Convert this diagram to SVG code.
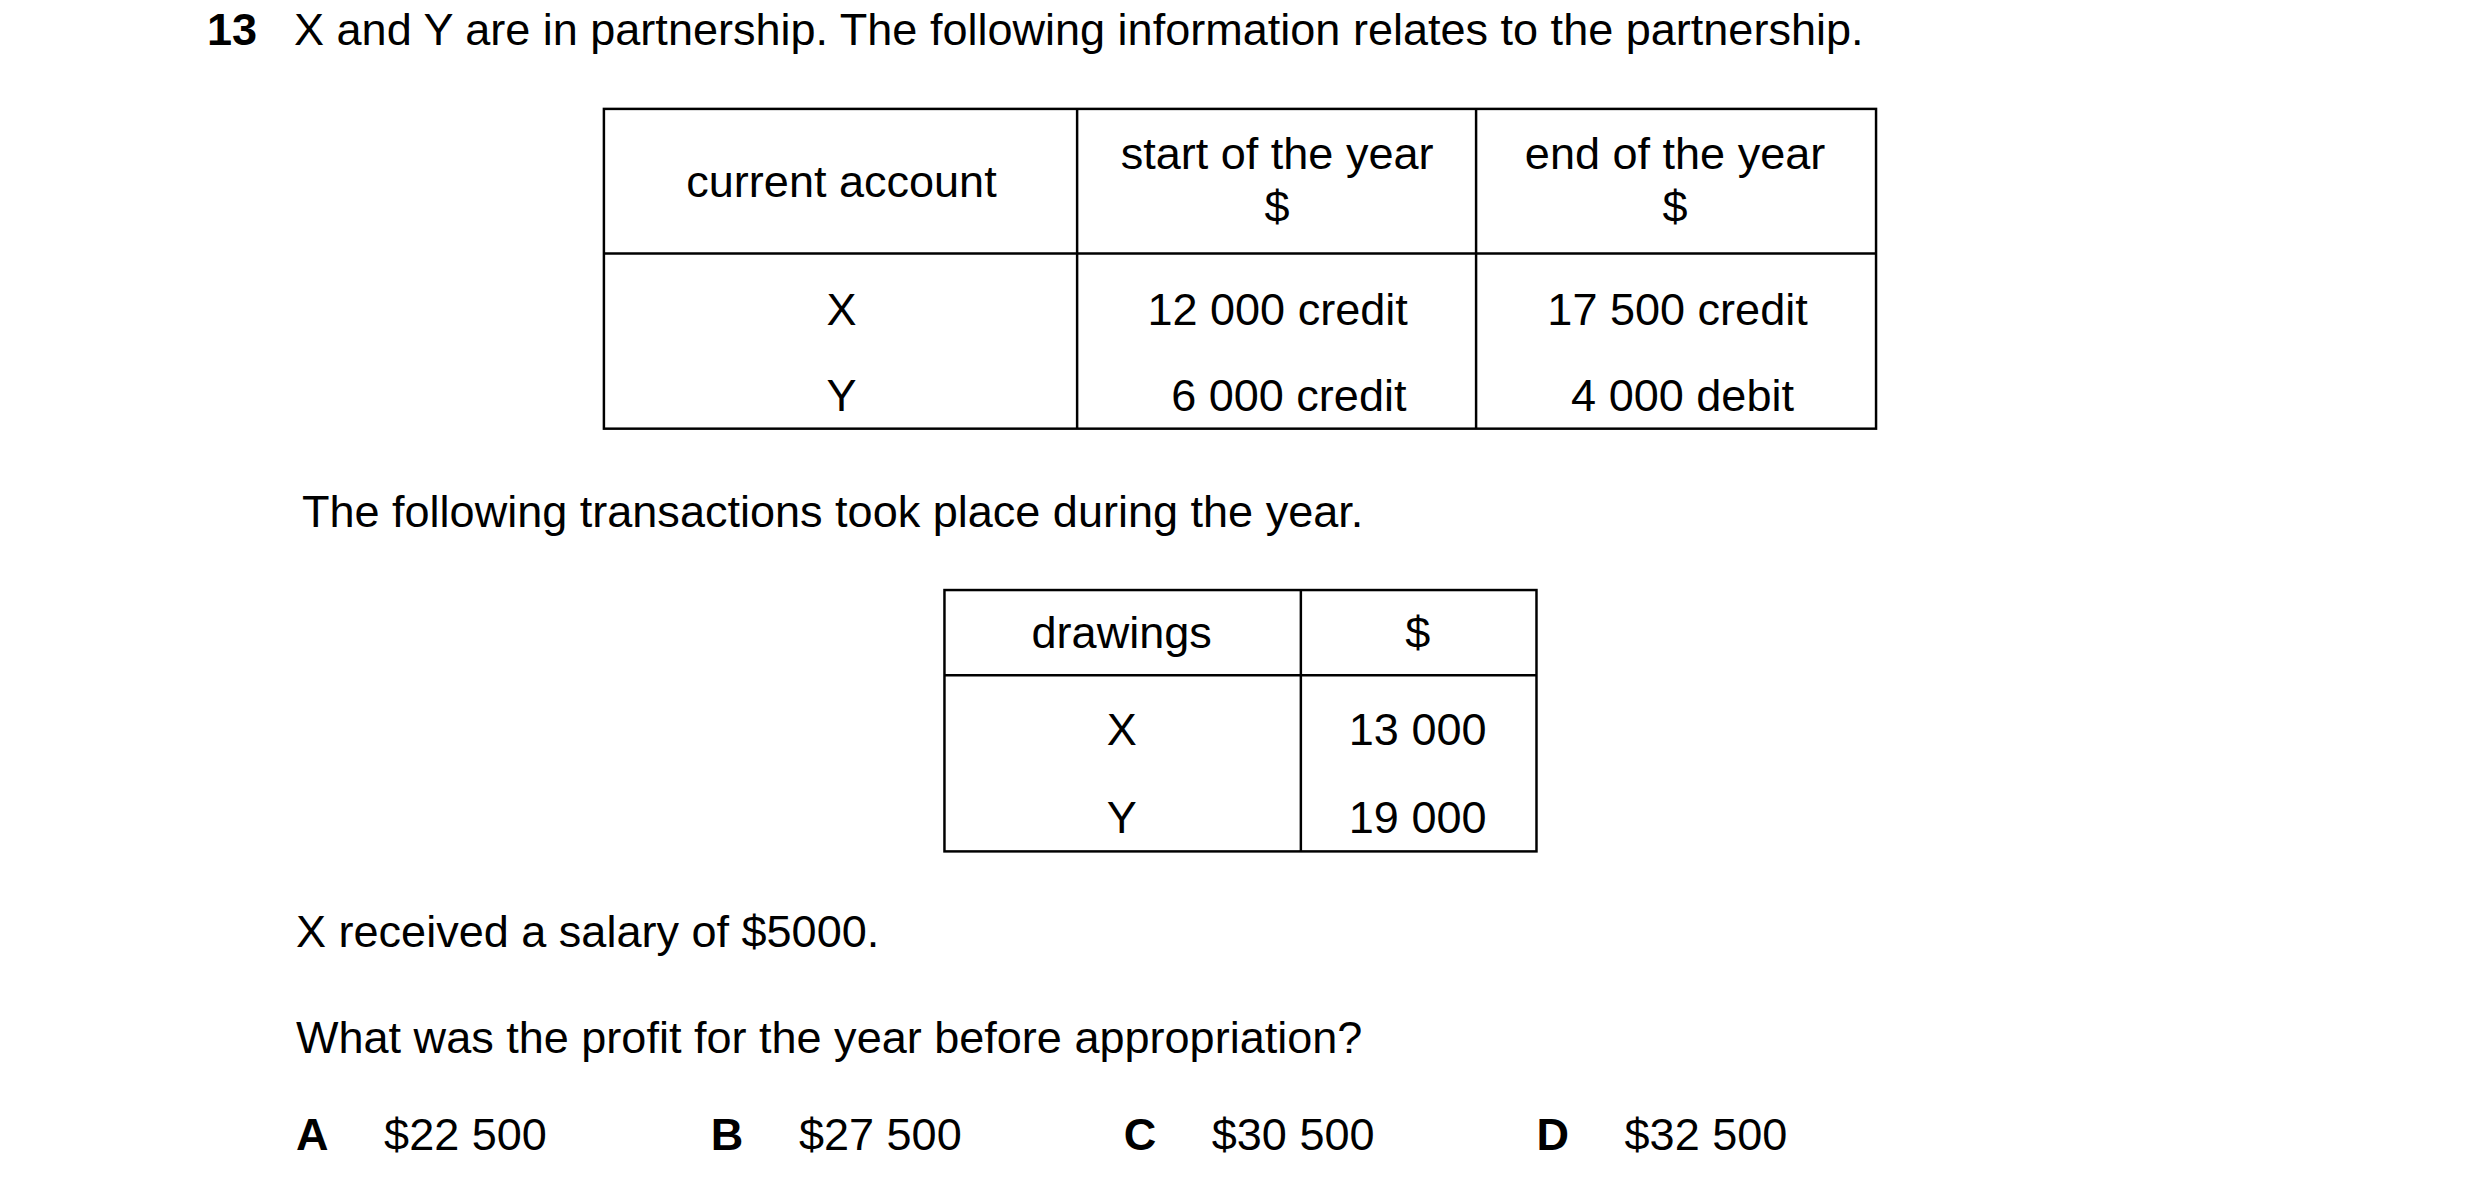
<svg xmlns="http://www.w3.org/2000/svg" width="2480" height="1196" viewBox="0 0 2480 1196">
<style>
text{font-family:"Liberation Sans",Arial,sans-serif;font-size:45.5px;fill:#000}
.b{font-weight:bold}
.c{text-anchor:middle}
.ln{stroke:#000;stroke-width:2.5;fill:none}
</style>
<rect width="2480" height="1196" fill="#fff"/>
<g transform="scale(0.99)">
<g id="title"><text class="b" x="209" y="45">13</text><text x="297" y="45">X and Y are in partnership. The following information relates to the partnership.</text></g>
<g id="table1">
<rect class="ln" x="610" y="110" width="1285" height="323"/>
<line class="ln" x1="1088" y1="110" x2="1088" y2="433"/>
<line class="ln" x1="1491" y1="110" x2="1491" y2="433"/>
<line class="ln" x1="610" y1="256" x2="1895" y2="256"/>
<text class="c" x="850" y="199">current account</text>
<text class="c" x="1290" y="171">start of the year</text>
<text class="c" x="1290" y="224">$</text>
<text class="c" x="1692" y="171">end of the year</text>
<text class="c" x="1692" y="224">$</text>
<text class="c" x="850" y="328">X</text>
<text class="c" x="850" y="415">Y</text>
<text x="1159" y="328">12 000 credit</text>
<text x="1183" y="415">6 000 credit</text>
<text x="1563" y="328">17 500 credit</text>
<text x="1587" y="415">4 000 debit</text>
</g>
<g id="text2"><text x="305" y="532">The following transactions took place during the year.</text></g>
<g id="table2">
<rect class="ln" x="954" y="596" width="598" height="264"/>
<line class="ln" x1="1314" y1="596" x2="1314" y2="860"/>
<line class="ln" x1="954" y1="682" x2="1552" y2="682"/>
<text class="c" x="1133" y="655">drawings</text>
<text class="c" x="1432" y="655">$</text>
<text class="c" x="1133" y="753">X</text>
<text class="c" x="1133" y="841">Y</text>
<text class="c" x="1432" y="753">13 000</text>
<text class="c" x="1432" y="841">19 000</text>
</g>
<g id="text3"><text x="299" y="957">X received a salary of $5000.</text>
<text x="299" y="1064">What was the profit for the year before appropriation?</text></g>
<g id="options">
<text class="b" x="299" y="1162">A</text><text x="388" y="1162">$22 500</text>
<text class="b" x="718" y="1162">B</text><text x="807" y="1162">$27 500</text>
<text class="b" x="1135" y="1162">C</text><text x="1224" y="1162">$30 500</text>
<text class="b" x="1552" y="1162">D</text><text x="1641" y="1162">$32 500</text>
</g>
</g>
</svg>
